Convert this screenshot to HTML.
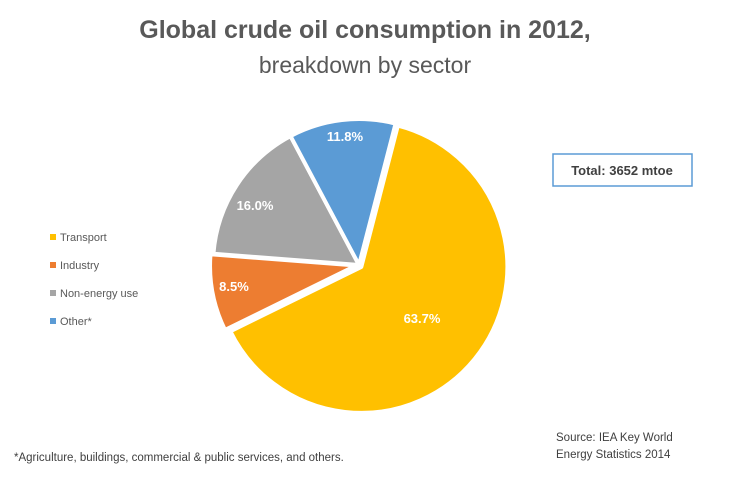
<html><head><style>body{margin:0;background:#fff;}svg{display:block;font-family:"Liberation Sans",sans-serif}</style></head><body>
<svg id="s" width="730" height="480" xmlns="http://www.w3.org/2000/svg">
<text x="365" y="38" text-anchor="middle" font-size="25" font-weight="bold" fill="#595959">Global crude oil consumption in 2012,</text>
<text x="365" y="73" text-anchor="middle" font-size="23" fill="#595959">breakdown by sector</text>
<g id="pie"></g>
<g font-size="13" font-weight="bold" fill="#fff" text-anchor="middle">
<text x="422" y="323">63.7%</text>
<text x="234" y="291">8.5%</text>
<text x="255" y="210">16.0%</text>
<text x="345" y="141">11.8%</text>
</g>
<rect x="553" y="154" width="139" height="32" fill="#fff" stroke="#5b9bd5" stroke-width="1.5"/>
<text x="622" y="175" text-anchor="middle" font-size="13" font-weight="bold" fill="#404040">Total: 3652 mtoe</text>
<g font-size="11" fill="#595959">
<rect x="50" y="234" width="6" height="6" fill="#ffc000"/><text x="60" y="241">Transport</text>
<rect x="50" y="262" width="6" height="6" fill="#ed7d31"/><text x="60" y="269">Industry</text>
<rect x="50" y="290" width="6" height="6" fill="#a5a5a5"/><text x="60" y="297">Non-energy use</text>
<rect x="50" y="318" width="6" height="6" fill="#5b9bd5"/><text x="60" y="325">Other*</text>
</g>
<g font-size="11.5" fill="#404040">
<text x="556" y="441">Source: IEA Key World</text>
<text x="556" y="458">Energy Statistics 2014</text>
<text x="14" y="461">*Agriculture, buildings, commercial &amp; public services, and others.</text>
</g>
</svg>
<script>
var cx=359,cy=265,R=146,start=14.5;
var d=[[63.7,'#ffc000',3],[8.5,'#ed7d31',3],[16.0,'#a5a5a5',0],[11.8,'#5b9bd5',0]];
var g=document.getElementById('pie'),a=start,h='';
function pt(x,y,ang,r){var t=ang*Math.PI/180;return [x+r*Math.sin(t),y-r*Math.cos(t)];}
d.forEach(function(s){var sw=s[0]*3.6,b=a+sw,m=a+sw/2,o=pt(cx,cy,m,s[2]),p1=pt(o[0],o[1],a,R),p2=pt(o[0],o[1],b,R);
h+='<path d="M'+o[0]+','+o[1]+' L'+p1[0]+','+p1[1]+' A'+R+','+R+' 0 '+(sw>180?1:0)+' 1 '+p2[0]+','+p2[1]+' Z" fill="'+s[1]+'" stroke="#fff" stroke-width="4" stroke-linejoin="round"/>';a=b;});
g.innerHTML=h;
</script>
</body></html>
